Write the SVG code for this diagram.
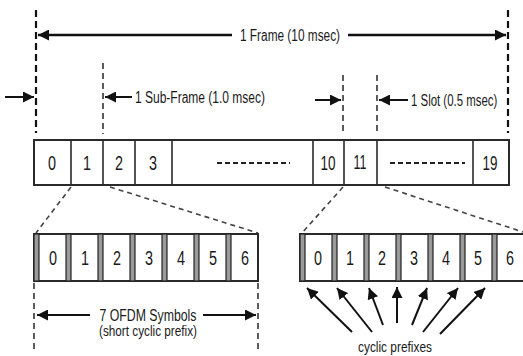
<svg xmlns="http://www.w3.org/2000/svg" width="523" height="356" viewBox="0 0 523 356">
<defs>
<style>
.t{font-family:"Liberation Sans",Arial,sans-serif;fill:#1a1a1a}
.lbl{font-size:20px;text-anchor:middle}
.ann{font-size:16px}
.bar{fill:#fff;stroke:#2a2a2a;stroke-width:2}
.div{stroke:#2a2a2a;stroke-width:1.6}
.cp{fill:#9a9a9a;stroke:#222;stroke-width:1.2}
.vd{stroke:#111;stroke-width:2.2;stroke-dasharray:7 4;fill:none}
.vd2{stroke:#333;stroke-width:1.6;stroke-dasharray:6 4;fill:none}
.zd{stroke:#444;stroke-width:1.6;stroke-dasharray:5 4;fill:none}
.arr{stroke:#111;stroke-width:2.5;fill:none;marker-end:url(#ah)}
.arr2{stroke:#111;stroke-width:2;fill:none;marker-end:url(#ah2)}
.dash{stroke:#222;stroke-width:2;stroke-dasharray:5 3}
</style>
<marker id="ah" viewBox="0 0 10 10" refX="10" refY="5" markerWidth="4.4" markerHeight="4.4" markerUnits="strokeWidth" orient="auto"><path d="M0,0 L10,5 L0,10 z" fill="#111"/></marker>
<marker id="ah2" viewBox="0 0 10 10" refX="10" refY="5" markerWidth="5.5" markerHeight="5.5" markerUnits="strokeWidth" orient="auto"><path d="M0,0 L10,5 L0,10 z" fill="#111"/></marker>
</defs>
<rect width="523" height="356" fill="#fff"/>

<g id="connectors">
<line class="vd" x1="36" y1="10" x2="36" y2="133"/>
<line class="vd" x1="508" y1="10" x2="508" y2="133"/>
<line class="vd2" x1="103" y1="63" x2="103" y2="134"/>
<line class="vd2" x1="343" y1="75" x2="343" y2="134"/>
<line class="vd2" x1="377" y1="75" x2="377" y2="134"/>
<line class="arr" x1="232" y1="35" x2="38" y2="35"/>
<line class="arr" x1="348" y1="35" x2="506" y2="35"/>
<line class="arr2" x1="5" y1="97" x2="34" y2="97"/>
<line class="arr2" x1="132" y1="97" x2="105" y2="97"/>
<line class="arr2" x1="315" y1="100" x2="341" y2="100"/>
<line class="arr2" x1="408" y1="100" x2="379" y2="100"/>
<line class="zd" x1="71" y1="187" x2="36" y2="233"/>
<line class="zd" x1="110" y1="187" x2="258" y2="233"/>
<line class="zd" x1="343" y1="187" x2="302" y2="233"/>
<line class="zd" x1="385" y1="187" x2="523" y2="232"/>
<line class="vd2" x1="34" y1="283" x2="34" y2="352"/>
<line class="vd2" x1="258" y1="283" x2="258" y2="352"/>
<line class="arr2" x1="90" y1="315" x2="37" y2="315"/>
<line class="arr2" x1="203" y1="315" x2="256" y2="315"/>
<line class="arr2" x1="352" y1="332" x2="307" y2="288"/>
<line class="arr2" x1="372" y1="332" x2="337" y2="288"/>
<line class="arr2" x1="383" y1="325" x2="369" y2="288"/>
<line class="arr2" x1="397" y1="323" x2="397" y2="287"/>
<line class="arr2" x1="412" y1="325" x2="427" y2="288"/>
<line class="arr2" x1="423" y1="332" x2="458" y2="288"/>
<line class="arr2" x1="440" y1="334" x2="485" y2="288"/>
</g>

<g id="labels-top">
<text class="t ann" x="240" y="41" textLength="100" lengthAdjust="spacingAndGlyphs">1 Frame (10 msec)</text>
<text class="t ann" x="135" y="103" textLength="130" lengthAdjust="spacingAndGlyphs">1 Sub-Frame (1.0 msec)</text>
<text class="t ann" transform="translate(411,106) scale(0.714,1)" x="0" y="0">1 Slot (0.5 msec)</text>
</g>

<g id="frame">
<rect class="bar" x="34" y="140" width="475" height="45"/>
<line class="div" x1="71" y1="140" x2="71" y2="185"/>
<line class="div" x1="103" y1="140" x2="103" y2="185"/>
<line class="div" x1="135" y1="140" x2="135" y2="185"/>
<line class="div" x1="172" y1="140" x2="172" y2="185"/>
<line class="div" x1="313" y1="140" x2="313" y2="185"/>
<line class="div" x1="344" y1="140" x2="344" y2="185"/>
<line class="div" x1="377" y1="140" x2="377" y2="185"/>
<line class="div" x1="473" y1="140" x2="473" y2="185"/>
<text class="t lbl" x="52" y="170" textLength="8" lengthAdjust="spacingAndGlyphs">0</text>
<text class="t lbl" x="87" y="170" textLength="8" lengthAdjust="spacingAndGlyphs">1</text>
<text class="t lbl" x="119" y="170" textLength="8" lengthAdjust="spacingAndGlyphs">2</text>
<text class="t lbl" x="153" y="170" textLength="8" lengthAdjust="spacingAndGlyphs">3</text>
<line class="dash" x1="217" y1="163" x2="290" y2="163"/>
<text class="t lbl" x="328" y="170" textLength="15" lengthAdjust="spacingAndGlyphs">10</text>
<text class="t lbl" x="360" y="169" textLength="13" lengthAdjust="spacingAndGlyphs">11</text>
<line class="dash" x1="390" y1="163" x2="465" y2="163"/>
<text class="t lbl" x="490" y="170" textLength="15" lengthAdjust="spacingAndGlyphs">19</text>
</g>

<g id="symbols-left">
<rect class="bar" x="34" y="234" width="224" height="47"/>
<rect class="cp" x="34" y="234" width="5" height="47"/>
<rect class="cp" x="66" y="234" width="5" height="47"/>
<rect class="cp" x="98" y="234" width="5" height="47"/>
<rect class="cp" x="130" y="234" width="5" height="47"/>
<rect class="cp" x="162" y="234" width="5" height="47"/>
<rect class="cp" x="194" y="234" width="5" height="47"/>
<rect class="cp" x="226" y="234" width="5" height="47"/>
<text class="t lbl" x="53" y="265" textLength="8" lengthAdjust="spacingAndGlyphs">0</text>
<text class="t lbl" x="85" y="265" textLength="8" lengthAdjust="spacingAndGlyphs">1</text>
<text class="t lbl" x="117" y="265" textLength="8" lengthAdjust="spacingAndGlyphs">2</text>
<text class="t lbl" x="149" y="265" textLength="8" lengthAdjust="spacingAndGlyphs">3</text>
<text class="t lbl" x="181" y="265" textLength="8" lengthAdjust="spacingAndGlyphs">4</text>
<text class="t lbl" x="213" y="265" textLength="8" lengthAdjust="spacingAndGlyphs">5</text>
<text class="t lbl" x="245" y="265" textLength="8" lengthAdjust="spacingAndGlyphs">6</text>
<text class="t" x="148" y="321" font-size="16" text-anchor="middle" textLength="97" lengthAdjust="spacingAndGlyphs">7 OFDM Symbols</text>
<text class="t" x="148" y="336" font-size="14" text-anchor="middle" textLength="98" lengthAdjust="spacingAndGlyphs">(short cyclic prefix)</text>
</g>

<g id="symbols-right">
<rect class="bar" x="300" y="234" width="230" height="47"/>
<rect class="cp" x="300" y="234" width="5" height="47"/>
<rect class="cp" x="332" y="234" width="5" height="47"/>
<rect class="cp" x="364" y="234" width="5" height="47"/>
<rect class="cp" x="396" y="234" width="5" height="47"/>
<rect class="cp" x="428" y="234" width="5" height="47"/>
<rect class="cp" x="460" y="234" width="5" height="47"/>
<rect class="cp" x="492" y="234" width="5" height="47"/>
<text class="t lbl" x="318" y="265" textLength="8" lengthAdjust="spacingAndGlyphs">0</text>
<text class="t lbl" x="350" y="265" textLength="8" lengthAdjust="spacingAndGlyphs">1</text>
<text class="t lbl" x="382" y="265" textLength="8" lengthAdjust="spacingAndGlyphs">2</text>
<text class="t lbl" x="414" y="265" textLength="8" lengthAdjust="spacingAndGlyphs">3</text>
<text class="t lbl" x="446" y="265" textLength="8" lengthAdjust="spacingAndGlyphs">4</text>
<text class="t lbl" x="478" y="265" textLength="8" lengthAdjust="spacingAndGlyphs">5</text>
<text class="t lbl" x="510" y="265" textLength="8" lengthAdjust="spacingAndGlyphs">6</text>
<text class="t" x="395" y="352" font-size="15" text-anchor="middle" textLength="74" lengthAdjust="spacingAndGlyphs">cyclic prefixes</text>
</g>
</svg>
